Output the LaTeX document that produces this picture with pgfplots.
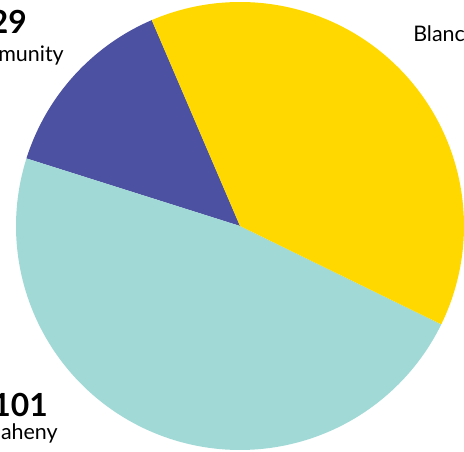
\documentclass[border=0pt]{standalone}
\usepackage{pgfplots}
\pgfplotsset{compat=1.18}
\usepackage{fontspec}
\setmainfont{Lato}
\definecolor{cYel}{RGB}{255,216,0}
\definecolor{cPur}{RGB}{76,81,161}
\definecolor{cTea}{RGB}{161,217,214}
% values
\def\vPur{29}
\def\vTea{101}
\def\vYel{82}
\begin{document}
\begin{tikzpicture}
\pgfmathsetmacro{\tot}{\vPur+\vTea+\vYel}
\pgfmathsetmacro{\aA}{113.2}
\pgfmathsetmacro{\aB}{\aA+360/\tot*\vPur}
\pgfmathsetmacro{\aC}{\aB+360/\tot*\vTea}
\pgfmathsetmacro{\aD}{\aA+360}
\begin{axis}[name=ax, scale only axis, width=4.64in, height=4.52in,
  xmin=0, xmax=464, ymin=-452, ymax=0, hide axis, clip mode=individual]
\addplot[fill=cPur, draw=none, domain=\aA:\aB, samples=60, variable=\t]
  ({240+224*cos(\t)},{-226+224*sin(\t)}) -- (axis cs:240,-226) -- cycle;
\addplot[fill=cTea, draw=none, domain=\aB:\aC, samples=120, variable=\t]
  ({240+224*cos(\t)},{-226+224*sin(\t)}) -- (axis cs:240,-226) -- cycle;
\addplot[fill=cYel, draw=none, domain=\aC:\aD, samples=120, variable=\t]
  ({240+224*cos(\t)},{-226+224*sin(\t)}) -- (axis cs:240,-226) -- cycle;
\node[anchor=base east, inner sep=0pt, font=\fontsize{23}{26}\selectfont\bfseries] at (axis cs:27,-34) {29};
\node[anchor=base east, inner sep=0pt, font=\fontsize{15.5}{18}\selectfont] at (axis cs:64,-62) {Community};
\node[anchor=base east, inner sep=0pt, font=\fontsize{23}{26}\selectfont\bfseries] at (axis cs:48,-417) {101};
\node[anchor=base east, inner sep=0pt, font=\fontsize{15.5}{18}\selectfont] at (axis cs:58,-440) {Maheny};
\node[anchor=base west, inner sep=0pt, font=\fontsize{15.5}{18}\selectfont] at (axis cs:413,-42) {Blanchard};
\node[anchor=base east, inner sep=0pt, font=\fontsize{23}{26}\selectfont\bfseries] at (axis cs:520,-15) {82};
\end{axis}
\pgfresetboundingbox
\useasboundingbox (ax.south west) rectangle (ax.north east);
\end{tikzpicture}
\end{document}
